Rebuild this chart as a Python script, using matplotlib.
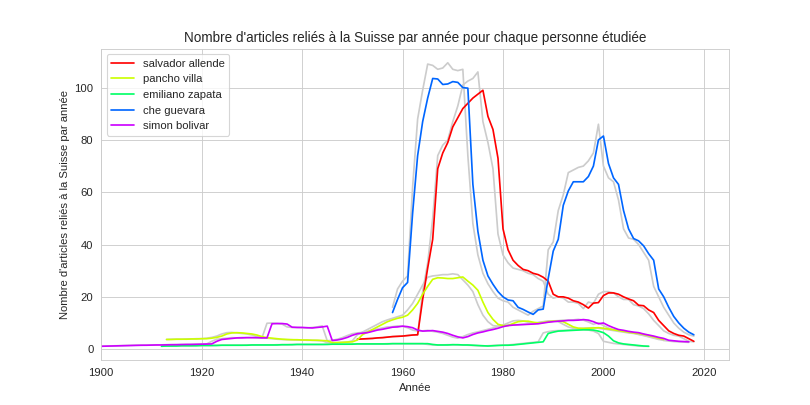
import numpy as np
import matplotlib
matplotlib.use("Agg")
import matplotlib.pyplot as plt
import seaborn as sns

# colored = smoothed values, raw = light gray lines behind
allende_start = 1951
allende_values = [3.8, 3.9, 4.0, 4.1, 4.3, 4.4, 4.6, 4.8, 4.9, 5.0, 5.2, 5.4, 5.5,
                  19, 31, 42, 69, 75, 79, 85, 88.5, 92, 94, 96, 97.5, 99, 89, 84, 73, 46,
                  38, 34, 32, 30.5, 30, 29, 28.5, 27.5, 26, 21, 20, 20, 19.5, 18.5, 18, 17,
                  15.7, 17.6, 17.8, 20.5, 21.5, 21.5, 21, 20, 19.2, 18.5, 16.8, 16.6, 15, 14,
                  11, 9, 7, 6, 5.3, 5, 4, 3]
allende_raw = [3.8, 3.9, 4.0, 4.1, 4.3, 4.4, 4.6, 4.8, 4.9, 5.0, 5.2, 5.4, 5.5,
               22, 33, 50, 74, 78, 80, 87, 93, 101, 102.5, 103.5, 106, 87, 79, 69, 44, 36,
               33, 31, 30.5, 30, 29, 28.5, 27, 26, 21, 19.5, 20, 19.5, 18, 18, 17.5, 15.5,
               18, 17.5, 21, 22, 22, 21.5, 20, 19, 19, 17, 16.5, 15.5, 13.5, 11,
               9, 7, 6, 5.3, 5, 4, 3, 2.8]

villa_start = 1913
villa_values = [3.7, 3.7, 3.8, 3.8, 3.8, 3.9, 3.9, 4, 4, 4.2,
                4.5, 5, 5.8, 6.2, 6.3, 6.2, 6, 5.8, 5.4, 4.8,
                4.4, 4.2, 4, 3.8, 3.7, 3.6, 3.6, 3.5, 3.5, 3.4,
                3.4, 3.3, 3.2, 2.5, 2.5, 2.6, 2.7, 2.8,
                3.5, 5.5, 6.5, 7.5, 8.5, 9.5, 10.5, 11.2, 11.8, 12.2,
                13, 15, 17.5, 21, 24, 26.7, 27.3, 27.2, 27, 27,
                27.3, 27.6, 26, 24.5, 22.5, 18, 14, 11.4, 9.5, 9,
                9, 9.8, 10.5, 10.7, 10.7, 10.3, 10, 10.2, 10.5, 10.7,
                10.7, 10.5, 9.5, 8.5, 8, 7.9, 8, 8.1, 8.2, 8,
                7.7, 7.4, 7.1, 6.8, 6.5, 6.2, 6, 5.6, 5.2, 4.7,
                4.2, 3.7]
villa_raw = [3.7, 3.8, 3.8, 3.8, 3.9, 3.9, 4, 4, 4.2, 4.5,
             5, 5.8, 6.3, 6.4, 6.2, 6, 5.8, 5.4, 4.8, 4.4,
             4.2, 4, 3.8, 3.7, 3.6, 3.6, 3.5, 3.5, 3.4, 3.4,
             3.3, 3.2, 2.5, 2.4, 2.5, 2.6, 2.7, 3.2,
             5.5, 6.5, 7.5, 8.5, 9.5, 10.5, 11.2, 11.8, 12.4, 13,
             15, 17.5, 21, 24.5, 27.5, 28, 28.2, 28.5, 28.5, 28.8,
             28.5, 26.5, 24.5, 22, 17, 13, 10.5, 9, 8.8, 9.2,
             10, 10.8, 11, 10.8, 10.3, 10, 10.2, 10.5, 10.8, 10.8,
             10.5, 9.5, 8.5, 8, 7.9, 8, 8.1, 8.2, 8, 7.7,
             7.4, 7.1, 6.8, 6.5, 6.2, 6, 5.6, 5.2, 4.7, 4.2,
             3.7, 3.5]

zapata_start = 1912
zapata_values = [1.1, 1.2, 1.2, 1.2, 1.3, 1.3, 1.3, 1.3, 1.4, 1.4,
                 1.4, 1.4, 1.5, 1.5, 1.5, 1.5, 1.5, 1.5, 1.6, 1.6,
                 1.6, 1.6, 1.6, 1.6, 1.7, 1.7, 1.7, 1.8, 1.8, 1.8,
                 1.8, 1.8, 1.8, 1.8, 1.9, 1.9, 1.9, 1.9, 1.9, 2.0,
                 2.0, 2.0, 2.0, 2.0, 2.0, 2.0, 2.1, 2.1, 2.1, 2.1,
                 2.1, 2.1, 2.1, 2.1, 1.8, 1.6, 1.6, 1.6, 1.7, 1.7,
                 1.6, 1.6, 1.5, 1.4, 1.3, 1.2, 1.3, 1.4, 1.5, 1.5,
                 1.6, 1.8, 2.0, 2.2, 2.4, 2.6, 2.8, 6.0, 6.5, 6.9,
                 7.0, 7.1, 7.2, 7.3, 7.4, 7.4, 7.3, 6.9, 6.3, 5.0,
                 3.2, 2.4, 2.0, 1.8, 1.6, 1.4, 1.2, 1.1]
zapata_raw = [1.2, 1.2, 1.2, 1.3, 1.3, 1.3, 1.3, 1.4, 1.4, 1.4,
              1.4, 1.5, 1.5, 1.5, 1.5, 1.5, 1.5, 1.6, 1.6, 1.6,
              1.6, 1.6, 1.6, 1.7, 1.7, 1.7, 1.8, 1.8, 1.8, 1.8,
              1.8, 1.8, 1.8, 1.9, 1.9, 1.9, 1.9, 1.9, 2.0, 2.0,
              2.0, 2.0, 2.0, 2.0, 2.0, 2.1, 2.1, 2.1, 2.1, 2.1,
              2.1, 2.1, 2.1, 1.8, 1.6, 1.6, 1.6, 1.7, 1.7, 1.6,
              1.6, 1.5, 1.4, 1.3, 1.2, 1.3, 1.4, 1.5, 1.5, 1.6,
              1.8, 2.0, 2.2, 2.4, 2.6, 2.8, 6.2, 6.7, 7.0, 7.1,
              7.2, 7.3, 7.4, 7.5, 7.5, 7.3, 6.9, 6.0, 3.0, 2.6,
              2.2, 2.0, 1.8, 1.6, 1.4, 1.2, 1.1, 1.1]

guevara_start = 1958
guevara_values = [14, 19, 23.5, 25.5, 52, 74, 87, 96, 103.5, 103.3,
                  101.2, 101.4, 102.3, 102, 100, 99.8, 63, 45, 34, 28,
                  24.8, 22, 20, 18.8, 18.5, 16, 15.2, 14.2, 13.3, 15,
                  15.3, 27, 37.5, 42, 55, 60.5, 64, 64, 64, 66,
                  70, 80, 81.5, 71, 65.5, 63, 53, 46, 42.3, 41.4,
                  39.5, 36.5, 34, 23, 20, 16, 12.5, 10, 8, 6.5,
                  5.5]
guevara_raw = [16, 23, 26, 28, 62, 88, 99, 109, 108.5, 107,
               107.5, 109.5, 107, 106.5, 107, 74, 48, 36, 29, 25,
               22, 19.5, 18.5, 18, 16, 15, 14, 13, 14.5, 15.5,
               16.5, 38, 41, 53, 59, 67.5, 68.5, 69.5, 70, 72,
               75, 86, 70, 65.5, 64, 57, 46, 42.5, 42, 40,
               37, 34, 24, 20, 16, 13, 10, 8, 6.5, 5.5,
               5]

bolivar_start = 1900
bolivar_values = [1.1, 1.15, 1.2, 1.25, 1.3, 1.35, 1.4, 1.45, 1.5, 1.5,
                  1.55, 1.6, 1.6, 1.65, 1.7, 1.7, 1.75, 1.8, 1.8, 1.85,
                  1.9, 1.95, 2, 3, 3.7, 3.9, 4.1, 4.3, 4.3, 4.4,
                  4.4, 4.4, 4.3, 4.3, 9.7, 9.8, 9.8, 9.6, 8.4, 8.3,
                  8.3, 8.2, 8.1, 8.3, 8.5, 8.8, 3.3, 3.5, 3.9, 4.5,
                  5.3, 5.9, 6.1, 6.3, 6.8, 7.3, 7.6, 8, 8.4, 8.5,
                  8.8, 8.6, 8.2, 7.3, 6.9, 7, 7.1, 6.8, 6.5, 6,
                  5.3, 4.7, 4.3, 4.8, 5.6, 6.2, 6.6, 7.1, 7.5, 8,
                  8.6, 9, 9.2, 9.3, 9.4, 9.5, 9.6, 9.7, 10, 10.3,
                  10.5, 10.7, 10.8, 11, 11, 11.1, 11.3, 11.1, 10.5, 9.7,
                  10, 9, 8.2, 7.5, 7.2, 6.8, 6.5, 6.3, 5.8, 5.4,
                  5, 4.5, 4.1, 3.4, 3.2, 3, 2.9, 2.8]
bolivar_raw = [1.1, 1.2, 1.25, 1.3, 1.35, 1.4, 1.45, 1.5, 1.5, 1.55,
               1.6, 1.6, 1.65, 1.7, 1.7, 1.75, 1.8, 1.8, 1.85, 1.9,
               1.95, 2, 3, 3.8, 4, 4.2, 4.4, 4.3, 4.5, 4.4,
               4.4, 4.3, 4.3, 9.9, 10, 9.8, 9.6, 8.5, 8.3, 8.3,
               8.2, 8.1, 8.3, 8.5, 8.9, 3.2, 3.4, 3.8, 4.4, 5.2,
               5.9, 6.2, 6.4, 6.8, 7.3, 7.7, 8.1, 8.5, 8.6, 8.9,
               8.7, 8.2, 7.3, 6.9, 7, 7.2, 6.8, 6.5, 6, 5.3,
               4.6, 4.2, 4.8, 5.6, 6.2, 6.6, 7.1, 7.6, 8.1, 8.7,
               9.1, 9.2, 9.3, 9.4, 9.5, 9.6, 9.7, 10.1, 10.4, 10.6,
               10.8, 10.9, 11.1, 11.1, 11.2, 11.4, 11.1, 10.4, 9.5, 10.1,
               9, 8.1, 7.4, 7.1, 6.7, 6.4, 6.2, 5.7, 5.3, 4.9,
               4.4, 4, 3.3, 3.1, 2.9, 2.8, 2.7, 2.6]

names = ["salvador allende", "pancho villa", "emiliano zapata", "che guevara", "simon bolivar"]
starts = [allende_start, villa_start, zapata_start, guevara_start, bolivar_start]
smoothed = [allende_values, villa_values, zapata_values, guevara_values, bolivar_values]
raws = [allende_raw, villa_raw, zapata_raw, guevara_raw, bolivar_raw]
colors = ["#ff0000", "#ccff00", "#00ff66", "#0066ff", "#cc00ff"]

sns.set_style("whitegrid")
plt.rcParams["font.family"] = ["Liberation Sans", "DejaVu Sans"]

fig, ax = plt.subplots(figsize=(10, 5), dpi=81)

for start, raw in zip(starts, raws):
    years = np.arange(start, start + len(raw))
    ax.plot(years, raw, color="#cccccc", linewidth=1.5, zorder=1)

for name, start, vals, col in zip(names, starts, smoothed, colors):
    years = np.arange(start, start + len(vals))
    ax.plot(years, vals, color=col, linewidth=1.5, label=name, zorder=2)

ax.set_xlim(1900, 2025)
ax.set_title("Nombre d'articles reliés à la Suisse par année pour chaque personne étudiée", fontsize=12)
ax.set_xlabel("Année")
ax.set_ylabel("Nombre d'articles reliés à la Suisse par année")
ax.legend(loc="upper left")

plt.savefig("out.png")
